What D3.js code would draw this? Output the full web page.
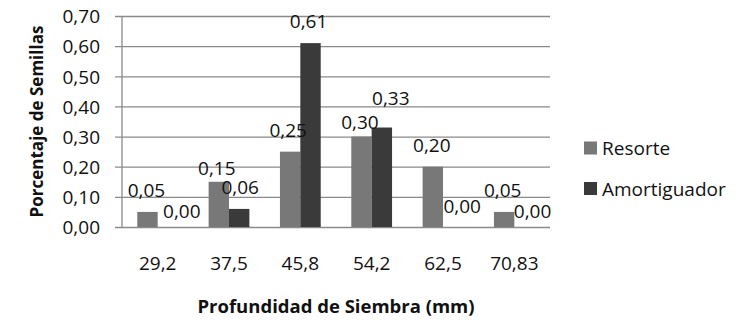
<!DOCTYPE html>
<html>
<head>
<meta charset="utf-8">
<script src="https://cdn.jsdelivr.net/npm/d3@7"></script>
<style>
  html, body { margin: 0; padding: 0; background: #fff; }
  svg { display: block; }
  text { font-family: "Open Sans", Lato, sans-serif; fill: #111; }
</style>
</head>
<body>
<svg id="chart" width="740" height="325"></svg>
<script>
// ---- data ----
const categories = ["29,2", "37,5", "45,8", "54,2", "62,5", "70,83"];
const seriesNames = ["Resorte", "Amortiguador"];
const resorte = [0.05, 0.15, 0.25, 0.30, 0.20, 0.05];
const amortiguador = [0.00, 0.06, 0.61, 0.33, 0.00, 0.00];
const yTicks = [0, 0.1, 0.2, 0.3, 0.4, 0.5, 0.6, 0.7];
const xTitle = "Profundidad de Siembra (mm)";
const yTitle = "Porcentaje de Semillas";

// label nudges (px) as placed in the original
const resorteNudge = [[-1, 0], [-2, 8], [-2, 0], [-1.5, 7.5], [-1, 0], [-1.5, 0]];
const amortNudge = [[14, 6], [1, 0], [-2, 0], [9, -8], [9, 1], [8, 6]];

const colors = ["#787878", "#3a3a3a"];
const fmt = v => d3.format(".2f")(v).replace(".", ",");
const FS = 19;

const svg = d3.select("#chart");
const m = { left: 122, right: 550, top: 16, bottom: 227 };

const x = d3.scaleBand().domain(categories).range([m.left, m.right])
  .paddingInner(3 / 7).paddingOuter(1.5 / 7);
const xs = d3.scaleBand().domain(seriesNames).range([0, x.bandwidth()]);
const y = d3.scaleLinear().domain([0, 0.7]).range([m.bottom, m.top]);

// gridlines + y axis
const yAxis = d3.axisLeft(y).tickValues(yTicks).tickFormat(fmt)
  .tickSize(-(m.right - m.left)).tickSizeOuter(0);
const gy = svg.append("g").attr("transform", `translate(${m.left},0)`).call(yAxis);
gy.select(".domain").remove();
gy.selectAll(".tick line").attr("stroke", "#8a8a8a").attr("stroke-width", 1.3)
  .attr("x1", -7);
gy.selectAll(".tick text").attr("font-size", FS).attr("font-family", "Open Sans")
  .attr("fill", "#111").attr("x", -22).attr("dy", "0.36em");

// left axis line
svg.append("line").attr("x1", m.left).attr("x2", m.left)
  .attr("y1", y(0.7)).attr("y2", y(0)).attr("stroke", "#8a8a8a").attr("stroke-width", 1.3);

// x axis labels
const xAxis = d3.axisBottom(x).tickSize(0);
const gx = svg.append("g").attr("transform", `translate(0,${m.bottom})`).call(xAxis);
gx.select(".domain").remove();
gx.selectAll(".tick text").attr("font-size", FS).attr("font-family", "Open Sans")
  .attr("fill", "#111").attr("y", 43).attr("dy", 0);

// bars
const seriesData = [resorte, amortiguador];
const nudges = [resorteNudge, amortNudge];
seriesData.forEach((vals, si) => {
  const name = seriesNames[si];
  svg.append("g").selectAll("rect").data(vals).join("rect")
    .attr("x", (d, i) => x(categories[i]) + xs(name))
    .attr("width", xs.bandwidth())
    .attr("y", d => y(d))
    .attr("height", d => y(0) - y(d))
    .attr("fill", colors[si]);
});

// value labels
seriesData.forEach((vals, si) => {
  const name = seriesNames[si];
  svg.append("g").selectAll("text").data(vals).join("text")
    .attr("x", (d, i) => x(categories[i]) + xs(name) + xs.bandwidth() / 2 + nudges[si][i][0])
    .attr("y", (d, i) => y(d) - 15 + nudges[si][i][1])
    .attr("text-anchor", "middle")
    .attr("font-size", FS)
    .text(d => fmt(d));
});

// titles
svg.append("text").attr("x", (m.left + m.right) / 2).attr("y", 313)
  .attr("text-anchor", "middle").attr("font-weight", "bold").attr("font-size", 18.5)
  .text(xTitle);
svg.append("text")
  .attr("transform", `translate(43,${(m.top + m.bottom) / 2}) rotate(-90)`)
  .attr("text-anchor", "middle").attr("font-weight", "bold").attr("font-size", 17)
  .text(yTitle);

// legend
const lg = svg.append("g").attr("transform", "translate(584,141.5)");
seriesNames.forEach((n, i) => {
  const g = lg.append("g").attr("transform", `translate(0,${i * 40.5})`);
  g.append("rect").attr("width", 13).attr("height", 13).attr("fill", colors[i]);
  g.append("text").attr("x", 18).attr("y", 13.5).attr("font-size", FS).text(n);
});
</script>
</body>
</html>
